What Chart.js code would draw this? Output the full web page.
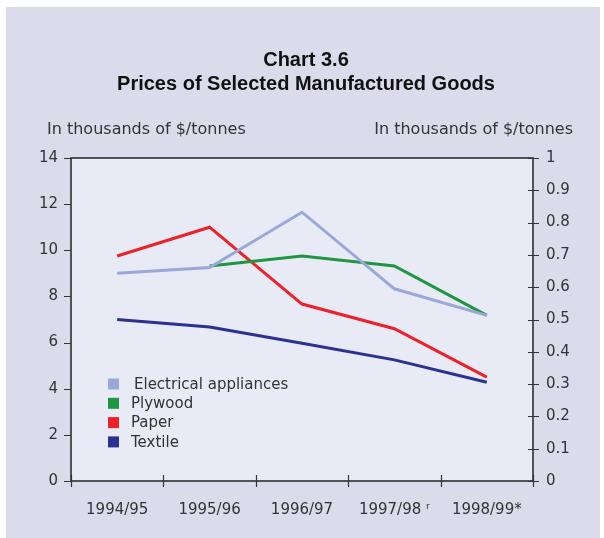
<!DOCTYPE html>
<html>
<head>
<meta charset="utf-8">
<script src="https://cdn.jsdelivr.net/npm/chart.js@4/dist/chart.umd.min.js"></script>
<style>
  html,body{margin:0;padding:0;background:#fff;}
  #wrap{position:relative;width:604px;height:538px;}
  #panel{position:absolute;left:6px;top:7px;width:594px;height:531px;background:#dcdbeb;}
  canvas{position:absolute;left:0;top:0;}
</style>
</head>
<body>
<div id="wrap">
  <div id="panel"></div>
  <canvas id="c" width="604" height="538"></canvas>
</div>
<script>
/* ---- data ---- */
const years = ['1994/95','1995/96','1996/97','1997/98 ʳ','1998/99*'];
const electrical = [9.0, 9.25, 11.65, 8.33, 7.18];
const plywood    = [null, 9.32, 9.75, 9.32, 7.18];
const paper      = [9.75, 11.0, 7.67, 6.6, 4.5];
const textile    = [7.0, 6.67, 5.97, 5.25, 4.28];
const leftTicks  = [0,2,4,6,8,10,12,14];
const rightTicks = [0,0.1,0.2,0.3,0.4,0.5,0.6,0.7,0.8,0.9,1];

const FONT = '"DejaVu Sans", sans-serif';
const INK = '#333';

/* plot background, frame, tick marks, titles, legend */
const frame = {
  id:'frame',
  beforeDatasetsDraw(chart){
    const {ctx, chartArea:a} = chart;
    ctx.save();
    ctx.fillStyle = '#e8ebf6';
    ctx.fillRect(a.left, a.top, a.right-a.left, a.bottom-a.top);
    ctx.restore();
  },
  afterDatasetsDraw(chart){
    const {ctx, chartArea:a, scales} = chart;
    ctx.save();
    ctx.strokeStyle = '#222'; ctx.lineWidth = 1.5;
    ctx.strokeRect(a.left, a.top, a.right-a.left, a.bottom-a.top);
    ctx.lineWidth = 1.2; ctx.strokeStyle = '#333';
    ctx.beginPath();
    leftTicks.forEach(v=>{ const y = Math.round(scales.y.getPixelForValue(v))+0.5; ctx.moveTo(a.left-7,y); ctx.lineTo(a.left,y); });
    rightTicks.forEach(v=>{ const y = Math.round(scales.y1.getPixelForValue(v))+0.5; ctx.moveTo(a.right-5,y); ctx.lineTo(a.right+6,y); });
    const xs = scales.x;
    for(let i=0;i<=years.length;i++){
      const x = Math.round(xs.getPixelForValue(i-0.5))+0.5;
      ctx.moveTo(x,a.bottom-6); ctx.lineTo(x,a.bottom+6);
    }
    ctx.stroke();

    // titles
    ctx.fillStyle = '#111';
    ctx.textAlign = 'center'; ctx.textBaseline = 'alphabetic';
    ctx.font = 'bold 20px "Liberation Sans", sans-serif';
    ctx.fillText('Chart 3.6', 306, 66);
    ctx.fillText('Prices of Selected Manufactured Goods', 306, 90);
    ctx.fillStyle = INK;
    ctx.font = '16px ' + FONT;
    ctx.textAlign = 'left';
    ctx.fillText('In thousands of $/tonnes', 47, 134);
    ctx.textAlign = 'right';
    ctx.fillText('In thousands of $/tonnes', 573, 134);

    // legend
    ctx.textAlign = 'left'; ctx.textBaseline = 'middle';
    ctx.font = '15px ' + FONT;
    chart.data.datasets.forEach((d,i)=>{
      const y = 384 + i*19.3;
      ctx.fillStyle = d.borderColor;
      ctx.fillRect(108, y-5.5, 11, 11);
      ctx.fillStyle = INK;
      ctx.fillText(d.label, i===0 ? 134 : 131, y+1);
    });
    ctx.restore();
  }
};

new Chart(document.getElementById('c'), {
  type:'line',
  data:{
    labels: years,
    datasets:[
      {label:'Electrical appliances', data:electrical, borderColor:'#9aa8d9'},
      {label:'Plywood', data:plywood, borderColor:'#1f9641'},
      {label:'Paper', data:paper, borderColor:'#ee2128'},
      {label:'Textile', data:textile, borderColor:'#2b3190'}
    ].map(d=>Object.assign(d,{borderWidth:3, pointRadius:0, tension:0, fill:false, spanGaps:false}))
  },
  options:{
    responsive:false, animation:false,
    layout:{padding:{top:158, left:0, right:0, bottom:0}},
    plugins:{legend:{display:false}, title:{display:false}, tooltip:{enabled:false}},
    scales:{
      x:{
        offset:true,
        grid:{display:false}, border:{display:false},
        ticks:{color:INK, font:{family:FONT, size:15}, padding:12, maxRotation:0},
        afterFit(s){ s.height = 57; }
      },
      y:{
        position:'left', min:0, max:14,
        grid:{display:false}, border:{display:false},
        ticks:{stepSize:2, color:INK, font:{family:FONT, size:15}, padding:5},
        afterFit(s){ s.width = 71; }
      },
      y1:{
        position:'right', min:0, max:1,
        grid:{display:false}, border:{display:false},
        ticks:{stepSize:0.1, color:INK, font:{family:FONT, size:15}, padding:5,
          callback:v=>String(Math.round(v*10)/10)},
        afterFit(s){ s.width = 71; }
      }
    }
  },
  plugins:[frame]
});
</script>
</body>
</html>
